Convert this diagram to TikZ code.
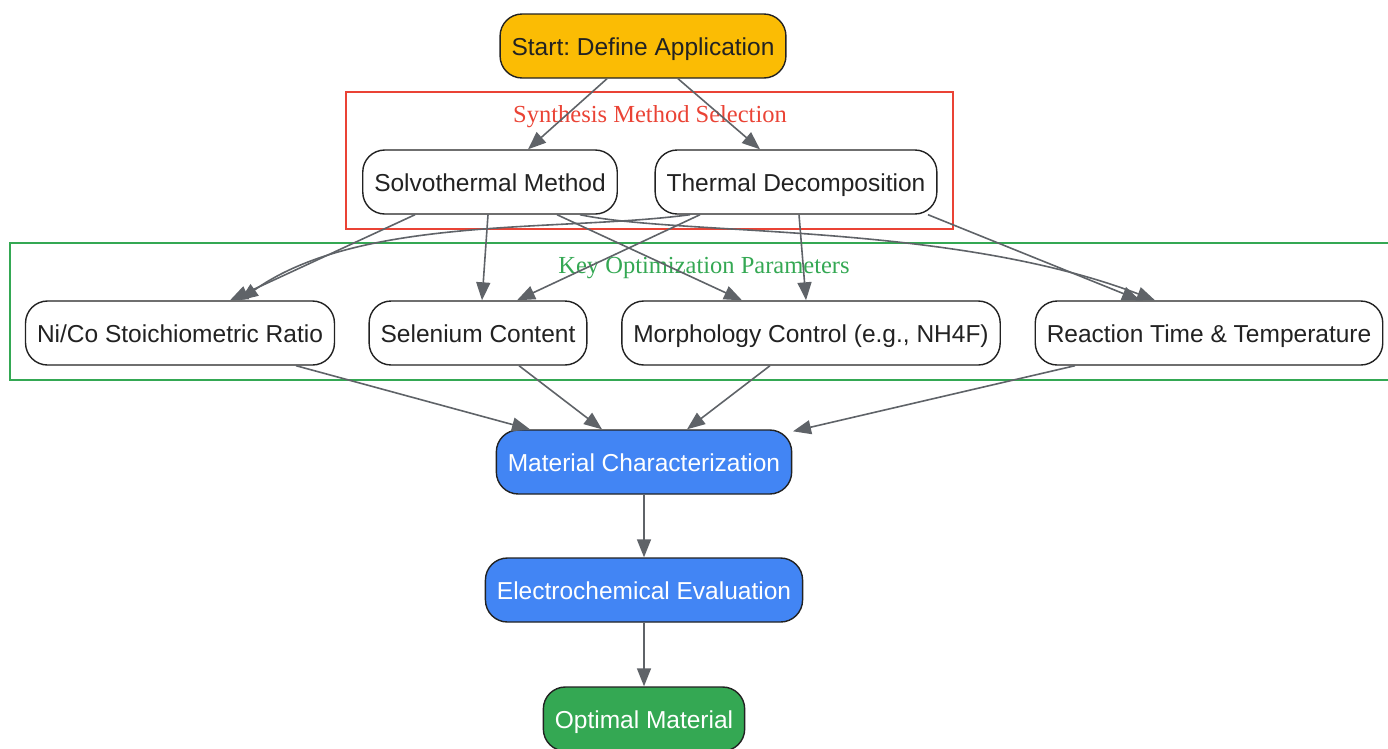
\documentclass[tikz,border=0pt]{standalone}
\usepackage{fontspec}
\setmainfont{Liberation Sans}
\newfontfamily\clusterfont{Liberation Serif}
\usetikzlibrary{arrows.meta}
\frenchspacing

\definecolor{startyellow}{RGB}{251,188,4}
\definecolor{stepblue}{RGB}{66,133,244}
\definecolor{stepgreen}{RGB}{52,168,83}
\definecolor{clusterred}{RGB}{234,67,53}
\definecolor{edgegray}{RGB}{95,99,104}
\definecolor{textdark}{RGB}{34,34,34}

\begin{document}
\begin{tikzpicture}[x=1pt,y=1pt,yscale=-1,xscale=1,
  box/.style={draw=textdark,line width=1.4pt,rounded corners=22pt,minimum height=64pt,
    inner xsep=11.5pt,text height=23pt,text depth=5pt,
    font=\fontsize{24.5}{28}\selectfont,text=textdark,fill=white},
  startbox/.style={box,fill=startyellow},
  bluebox/.style={box,fill=stepblue,text=white},
  greenbox/.style={box,fill=stepgreen,text=white},
  cluster/.style={line width=1.2pt},
  clusterlabel/.style={font=\clusterfont\fontsize{24.5}{28}\selectfont,inner sep=0pt},
  link/.style={draw=edgegray,line width=1.6pt,-{Triangle[length=18pt,width=14pt]}}]
\useasboundingbox (0,0) rectangle (1388,748);

%Clusters
\draw [cluster,draw=clusterred] (346,92) rectangle (953,229);
\draw [cluster,draw=stepgreen] (10,243) rectangle (1395,380);
\node [clusterlabel,text=clusterred] (synlabel) at (650,117) {Synthesis Method Selection};
\node [clusterlabel,text=stepgreen] (keylabel) at (704,268) {Key Optimization Parameters};

% Nodes
\node [startbox] (start) at (643,46) {Start: Define Application};
\node [box] (solvo) at (490,182) {Solvothermal Method};
\node [box] (thermal) at (796,182) {Thermal Decomposition};
\node [box] (nico) at (180,333) {Ni/Co Stoichiometric Ratio};
\node [box] (selen) at (478,333) {Selenium Content};
\node [box] (morph) at (811,333) {Morphology Control (e.g., NH4F)};
\node [box] (react) at (1209,333) {Reaction Time \& Temperature};
\node [bluebox] (charac) at (644,462) {Material Characterization};
\node [bluebox] (electro) at (644,590) {Electrochemical Evaluation};
\node [greenbox] (optimal) at (644,719) {Optimal Material};

% Edges
\draw [link] ([xshift=-36pt]start.south) -- ([xshift=38pt]solvo.north);
\draw [link] ([xshift=35pt]start.south) -- ([xshift=-36pt]thermal.north);

\draw [link] ([xshift=-75pt]solvo.south) -- ([xshift=50pt]nico.north);
\draw [link] ([xshift=-2pt]solvo.south) -- ([xshift=4pt]selen.north);
\draw [link] ([xshift=67pt]solvo.south) -- ([xshift=-69pt]morph.north);
\draw [link] ([xshift=90pt]solvo.south) .. controls (680,236) and (950,222) .. ([xshift=-54pt]react.north);

\draw [link] ([xshift=-106pt]thermal.south) .. controls (560,232) and (360,215) .. ([xshift=60pt]nico.north);
\draw [link] ([xshift=-96pt]thermal.south) -- ([xshift=39pt]selen.north);
\draw [link] ([xshift=3pt]thermal.south) -- ([xshift=-5pt]morph.north);
\draw [link] ([xshift=132pt]thermal.south) -- ([xshift=-69pt]react.north);

\draw [link] ([xshift=116pt]nico.south) -- ([xshift=-114pt]charac.north);
\draw [link] ([xshift=41pt]selen.south) -- ([xshift=-42pt]charac.north);
\draw [link] ([xshift=-41pt]morph.south) -- ([xshift=43pt]charac.north);
\draw [link] ([xshift=-134pt]react.south) -- ([xshift=149pt,yshift=2pt]charac.north);

\draw [link] (charac) -- (electro);
\draw [link] (electro) -- (optimal);

\end{tikzpicture}
\end{document}
